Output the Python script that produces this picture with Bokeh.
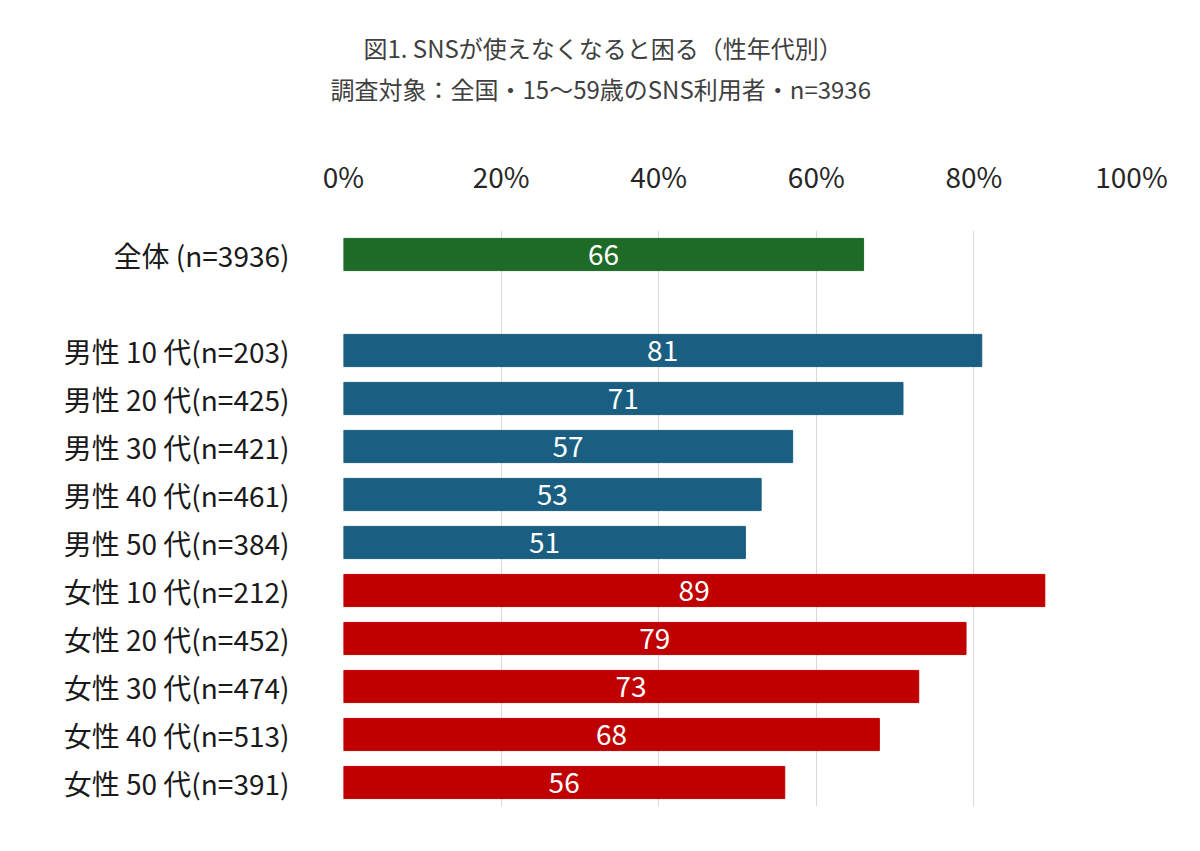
from bokeh.plotting import figure
from bokeh.models import FactorRange, Range1d, FixedTicker, Title, ColumnDataSource, PrintfTickFormatter
from bokeh.core.properties import value
from bokeh.embed import file_html
from bokeh.resources import INLINE

title_main = "図1. SNSが使えなくなると困る（性年代別）"
title_sub = "調査対象：全国・15～59歳のSNS利用者・n=3936"

categories = ["全体 (n=3936)",
              "男性 10 代(n=203)", "男性 20 代(n=425)", "男性 30 代(n=421)",
              "男性 40 代(n=461)", "男性 50 代(n=384)",
              "女性 10 代(n=212)", "女性 20 代(n=452)", "女性 30 代(n=474)",
              "女性 40 代(n=513)", "女性 50 代(n=391)"]
values = [66, 81, 71, 57, 53, 51, 89, 79, 73, 68, 56]
groups = ["全体", "男性", "男性", "男性", "男性", "男性",
          "女性", "女性", "女性", "女性", "女性"]
group_colors = {"全体": "#1E6B27", "男性": "#1A5E82", "女性": "#C00000"}
x_ticks = [0, 20, 40, 60, 80, 100]

FONT = "Noto Sans CJK JP"

factors = [categories[0], " "] + categories[1:]
y_range = FactorRange(factors=list(reversed(factors)))

src = ColumnDataSource(dict(
    cat=categories,
    val=values,
    mid=[v / 2 for v in values],
    lab=[str(v) for v in values],
    color=[group_colors[g] for g in groups],
))

p = figure(y_range=y_range, x_range=Range1d(0, 100),
           frame_width=788, frame_height=576,
           x_axis_location="above",
           output_backend="svg", toolbar_location=None,
           min_border_left=343, min_border_right=61,
           min_border_top=230, min_border_bottom=45)
p.outline_line_color = None
p.background_fill_color = "white"
p.border_fill_color = "white"

p.hbar(y="cat", right="val", left=0, height=0.67, color="color", source=src)
p.text(x="mid", y="cat", text="lab", source=src, text_color="white",
       text_align="center", text_baseline="middle",
       text_font=value(FONT), text_font_size="28px")

xa = p.xaxis[0]
xa.ticker = FixedTicker(ticks=x_ticks)
xa.formatter = PrintfTickFormatter(format="%d%%")
xa.axis_line_color = None
xa.major_tick_line_color = None
xa.minor_tick_line_color = None
xa.major_label_text_font = FONT
xa.major_label_text_font_size = "28px"
xa.major_label_text_color = "#262626"
xa.major_label_standoff = 29

ya = p.yaxis[0]
ya.axis_line_color = None
ya.major_tick_line_color = None
ya.minor_tick_line_color = None
ya.major_label_text_font = FONT
ya.major_label_text_font_size = "28px"
ya.major_label_text_color = "#1a1a1a"
ya.major_label_standoff = 48

p.xgrid.ticker = FixedTicker(ticks=x_ticks)
p.xgrid.grid_line_color = "#D9D9D9"
p.ygrid.grid_line_color = None

p.title.visible = False
# spacer between the axis labels and the subtitle
p.add_layout(Title(text=" ", text_font=FONT, text_font_size="21px", standoff=13), "above")
p.add_layout(Title(text=title_sub, align="left", offset=-13,
                   text_font=FONT, text_font_size="24px", text_font_style="normal",
                   text_color="#404040", standoff=4), "above")
p.add_layout(Title(text=title_main, align="left", offset=20,
                   text_font=FONT, text_font_size="24px", text_font_style="normal",
                   text_color="#404040", standoff=4), "above")

open("out.html", "w").write(file_html(p, INLINE))
